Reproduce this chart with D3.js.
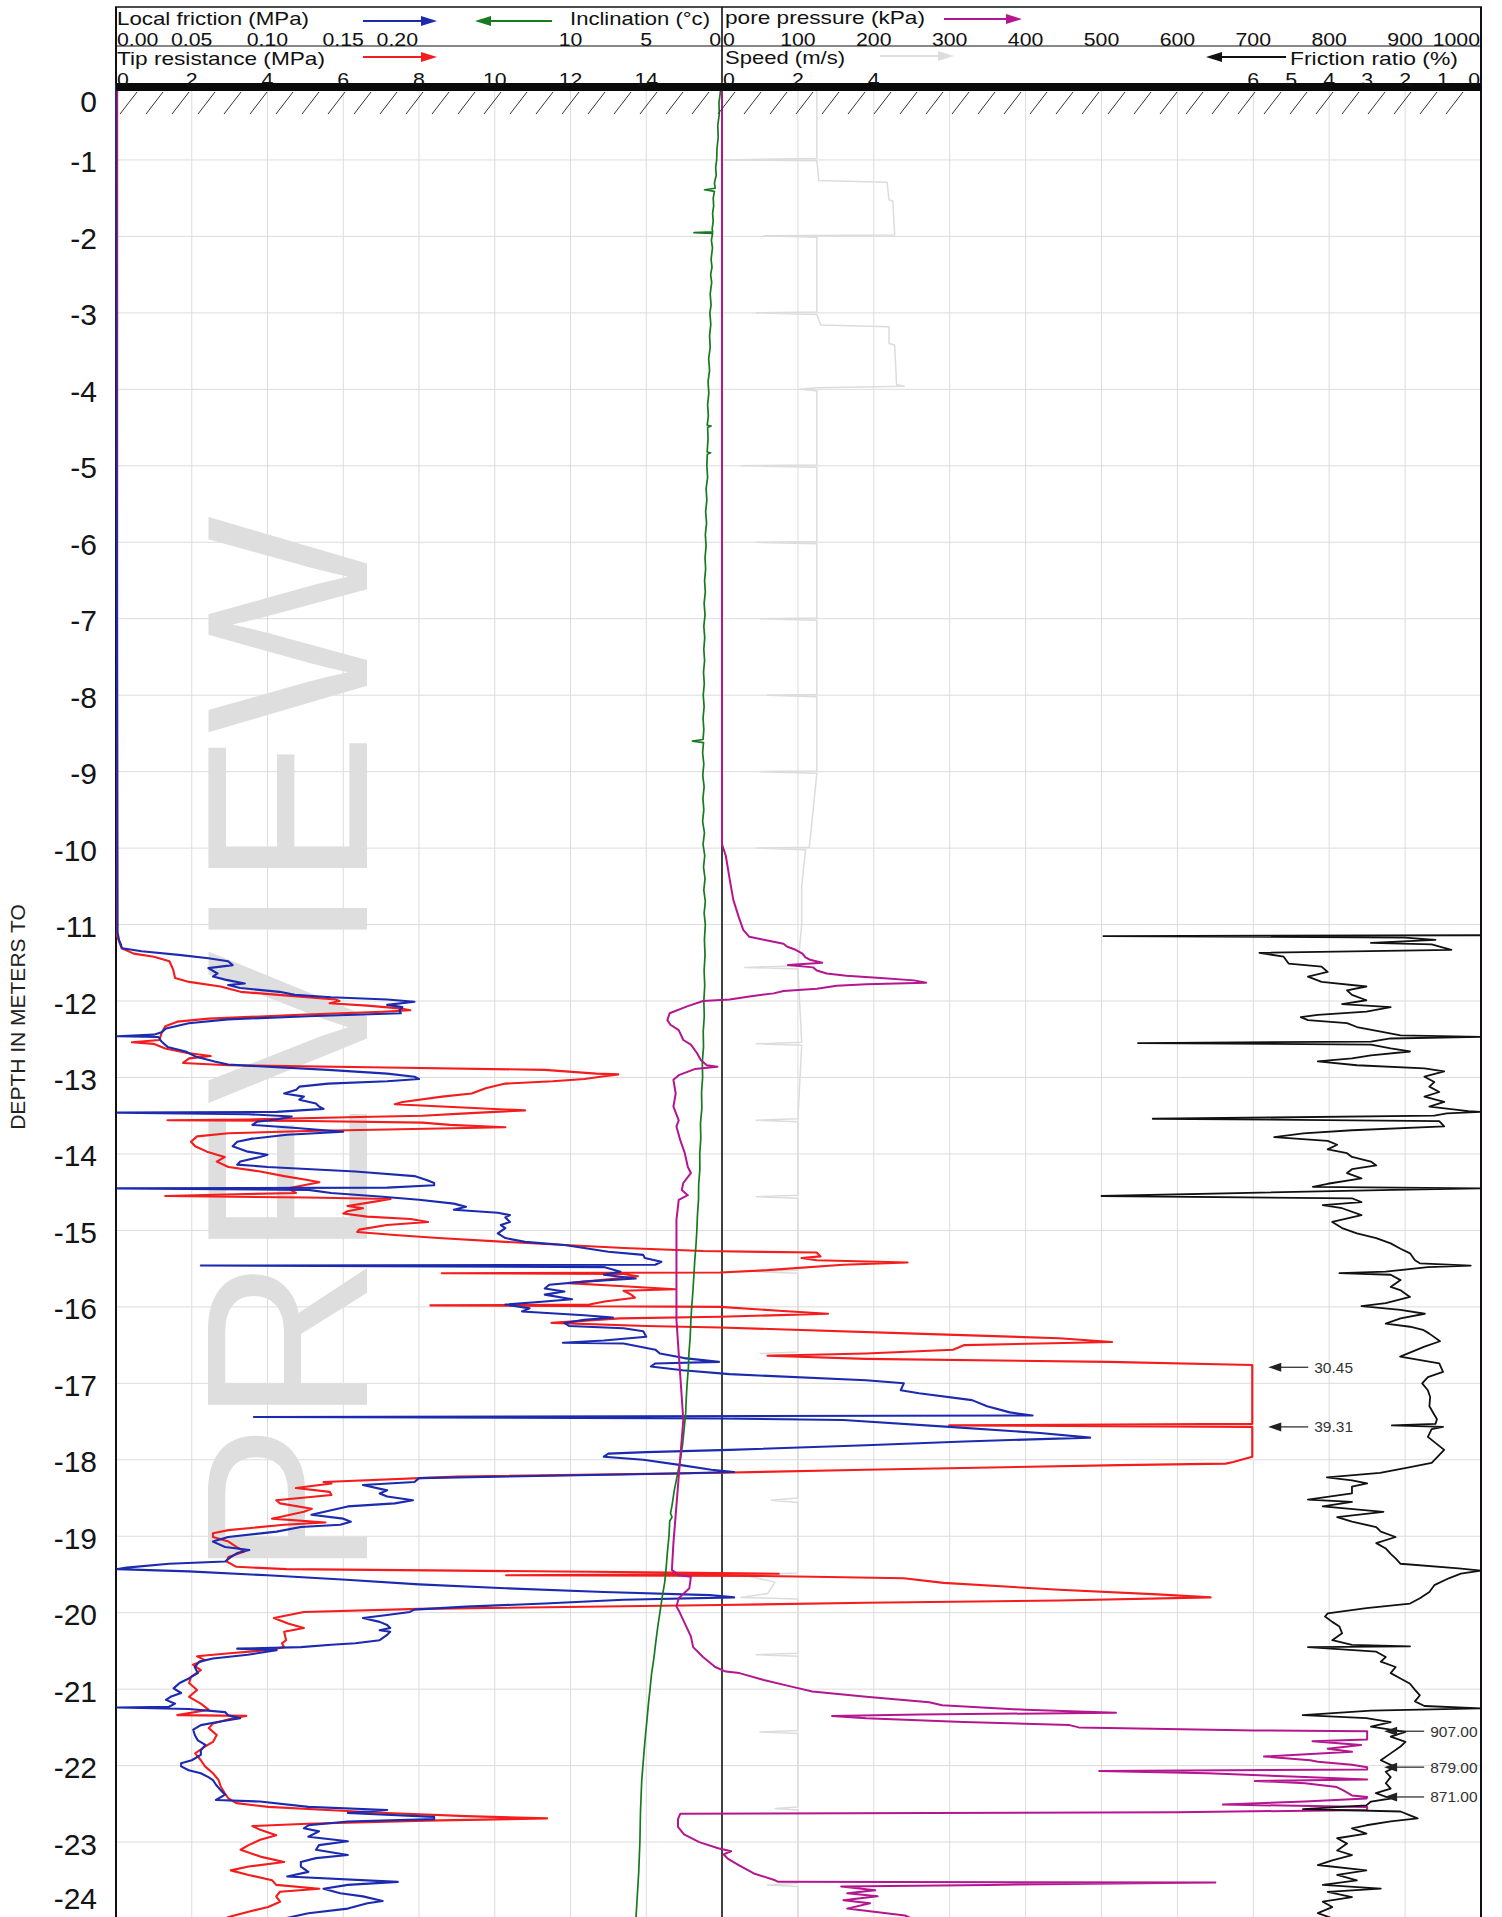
<!DOCTYPE html>
<html><head><meta charset="utf-8">
<script src="https://cdn.jsdelivr.net/npm/d3@7"></script>
<style>
body{margin:0;background:#fff}
svg{display:block}
text{font-family:"Liberation Sans",Arial,Helvetica,sans-serif}
</style>
</head><body>
<svg id="chart" width="1502" height="1917"></svg>
<script>
// ---------- axes / ticks ----------
const depthTicks = [0,-1,-2,-3,-4,-5,-6,-7,-8,-9,-10,-11,-12,-13,-14,-15,-16,-17,-18,-19,-20,-21,-22,-23,-24];
const tipTicks = [0,2,4,6,8,10,12,14];
const frictionTicks = [0,0.05,0.10,0.15,0.20];
const inclinationTicks = [10,5,0];
const poreTicks = [0,100,200,300,400,500,600,700,800,900,1000];
const speedTicks = [0,2,4];
const ratioTicks = [6,5,4,3,2,1,0];
const tipClip = 30, poreClip = 850;

// ---------- series: [depth (m), value] ----------
const tipResistance = [[0,0.03],[-11.15,0.03],[-11.18,0.05],[-11.31,0.15],[-11.38,0.47],[-11.42,1.0],[-11.48,1.41],[-11.59,1.51],[-11.7,1.56],[-11.75,1.93],[-11.81,2.76],[-11.88,3.29],[-11.93,4.54],[-11.98,5.79],[-12.0,5.9],[-12.03,5.64],[-12.06,6.63],[-12.1,7.56],[-12.12,7.77],[-12.14,7.04],[-12.18,4.85],[-12.23,2.45],[-12.27,1.62],[-12.33,1.3],[-12.42,1.2],[-12.51,1.15],[-12.54,0.42],[-12.56,0.99],[-12.62,1.3],[-12.68,1.88],[-12.72,2.5],[-12.75,1.93],[-12.81,1.77],[-12.84,2.97],[-12.87,7.15],[-12.9,11.32],[-12.95,12.68],[-12.96,13.26],[-12.99,12.79],[-13.02,12.37],[-13.05,11.53],[-13.08,10.28],[-13.14,9.76],[-13.18,9.55],[-13.21,9.39],[-13.25,8.61],[-13.32,7.57],[-13.35,7.36],[-13.37,8.19],[-13.4,9.45],[-13.43,10.8],[-13.47,9.24],[-13.5,8.09],[-13.52,6.11],[-13.55,3.5],[-13.56,1.36],[-13.57,5.06],[-13.59,8.09],[-13.62,8.82],[-13.65,10.28],[-13.68,7.15],[-13.7,5.06],[-13.73,2.97],[-13.77,2.14],[-13.84,1.98],[-13.9,2.09],[-13.97,2.4],[-14.04,2.87],[-14.1,2.66],[-14.17,2.97],[-14.23,3.81],[-14.29,4.44],[-14.34,5.06],[-14.37,5.37],[-14.41,4.96],[-14.45,4.54],[-14.51,4.75],[-14.55,1.3],[-14.57,5.06],[-14.59,7.25],[-14.64,6.63],[-14.68,6.11],[-14.71,6.52],[-14.75,6.11],[-14.78,6.0],[-14.82,6.63],[-14.85,7.78],[-14.89,8.24],[-14.93,7.15],[-14.99,6.42],[-15.02,6.37],[-15.06,7.36],[-15.1,8.51],[-15.15,10.28],[-15.19,11.85],[-15.23,13.41],[-15.27,15.5],[-15.29,18.5],[-15.34,18.6],[-15.36,18.1],[-15.39,18.5],[-15.42,20.9],[-15.45,19.2],[-15.52,17.2],[-15.55,15.95],[-15.56,8.6],[-15.57,13.4],[-15.6,13.78],[-15.64,13.0],[-15.69,11.95],[-15.73,13.4],[-15.77,14.77],[-15.79,13.4],[-15.84,13.6],[-15.88,13.7],[-15.93,12.9],[-15.97,12.5],[-15.98,8.3],[-16.0,15.95],[-16.05,17.5],[-16.09,18.8],[-16.13,15.95],[-16.15,13.3],[-16.21,11.5],[-16.25,14.0],[-16.27,15.95],[-16.35,21.1],[-16.41,24.9],[-16.46,26.3],[-16.5,22.4],[-16.56,22.1],[-16.61,19.8],[-16.64,17.2],[-16.68,19.8],[-16.72,26.2],[-16.76,30.06],[-16.79,30.45],[-17.0,33],[-17.3,36],[-17.53,39.31],[-17.55,22],[-17.57,39.31],[-17.8,35],[-17.96,31],[-18.03,29.5],[-18.05,29.3],[-18.07,26.5],[-18.13,19.8],[-18.17,15.95],[-18.22,9.0],[-18.29,5.48],[-18.31,5.69],[-18.37,4.75],[-18.42,5.64],[-18.46,5.69],[-18.53,4.23],[-18.57,4.33],[-18.64,5.17],[-18.68,4.96],[-18.77,4.12],[-18.82,5.53],[-18.85,4.44],[-18.92,2.97],[-18.96,2.56],[-19.01,2.56],[-19.07,2.97],[-19.14,3.18],[-19.2,3.39],[-19.27,2.97],[-19.33,2.92],[-19.4,3.18],[-19.43,4.5],[-19.45,9.0],[-19.47,14.0],[-19.49,17.5],[-19.51,10.3],[-19.52,17.0],[-19.53,18.4],[-19.55,20.8],[-19.61,21.85],[-19.7,24.9],[-19.76,27.5],[-19.8,28.9],[-19.84,24.9],[-19.87,19.8],[-19.9,15.95],[-19.95,8.0],[-19.99,4.96],[-20.07,4.17],[-20.14,4.54],[-20.2,4.96],[-20.25,4.44],[-20.36,4.49],[-20.4,4.38],[-20.45,4.44],[-20.49,4.0],[-20.53,3.0],[-20.57,2.14],[-20.62,2.35],[-20.68,2.03],[-20.75,2.24],[-20.84,1.98],[-20.92,1.93],[-21.01,2.14],[-21.1,1.93],[-21.19,2.24],[-21.27,2.45],[-21.34,1.62],[-21.35,3.44],[-21.38,3.08],[-21.45,2.56],[-21.51,2.45],[-21.6,2.66],[-21.69,2.56],[-21.75,2.35],[-21.84,2.09],[-21.93,2.24],[-22.01,2.35],[-22.1,2.56],[-22.19,2.71],[-22.28,2.77],[-22.36,2.87],[-22.43,2.97],[-22.49,3.18],[-22.54,4.02],[-22.58,5.58],[-22.62,7.15],[-22.66,9.24],[-22.69,11.38],[-22.72,8.19],[-22.76,5.06],[-22.79,3.6],[-22.84,3.81],[-22.91,4.23],[-22.97,3.81],[-23.04,3.5],[-23.1,3.29],[-23.19,3.81],[-23.26,4.44],[-23.32,3.5],[-23.37,3.03],[-23.43,3.5],[-23.5,4.12],[-23.56,4.23],[-23.61,5.37],[-23.65,4.33],[-23.71,4.23],[-23.78,4.33],[-23.85,4.02],[-23.91,3.5],[-23.98,2.97],[-24.0,2.9]];

const localFriction = [[0,0],[-11.1,0.001],[-11.2,0.002],[-11.25,0.003],[-11.31,0.004],[-11.35,0.017],[-11.4,0.043],[-11.44,0.061],[-11.48,0.074],[-11.53,0.077],[-11.57,0.061],[-11.64,0.067],[-11.68,0.064],[-11.72,0.072],[-11.77,0.085],[-11.79,0.074],[-11.83,0.082],[-11.88,0.108],[-11.92,0.118],[-11.95,0.142],[-11.98,0.179],[-12.01,0.197],[-12.05,0.179],[-12.08,0.189],[-12.12,0.187],[-12.16,0.188],[-12.2,0.127],[-12.24,0.074],[-12.29,0.048],[-12.36,0.033],[-12.41,0.03],[-12.44,0.025],[-12.46,0.001],[-12.47,0.028],[-12.53,0.03],[-12.6,0.034],[-12.66,0.046],[-12.73,0.053],[-12.79,0.065],[-12.83,0.074],[-12.86,0.1],[-12.9,0.14],[-12.95,0.179],[-12.99,0.197],[-13.02,0.2],[-13.05,0.179],[-13.08,0.14],[-13.12,0.121],[-13.16,0.119],[-13.21,0.111],[-13.25,0.124],[-13.29,0.121],[-13.34,0.132],[-13.38,0.134],[-13.41,0.137],[-13.45,0.106],[-13.46,0.001],[-13.48,0.087],[-13.51,0.116],[-13.55,0.106],[-13.58,0.093],[-13.62,0.09],[-13.66,0.119],[-13.71,0.15],[-13.75,0.113],[-13.8,0.09],[-13.84,0.08],[-13.9,0.077],[-13.97,0.087],[-14.01,0.1],[-14.04,0.095],[-14.1,0.082],[-14.14,0.08],[-14.17,0.1],[-14.23,0.158],[-14.29,0.197],[-14.34,0.205],[-14.38,0.21],[-14.41,0.21],[-14.44,0.179],[-14.45,0.001],[-14.47,0.127],[-14.51,0.142],[-14.56,0.176],[-14.6,0.2],[-14.65,0.223],[-14.69,0.231],[-14.73,0.223],[-14.77,0.252],[-14.8,0.26],[-14.83,0.257],[-14.89,0.26],[-14.93,0.254],[-14.97,0.257],[-15.04,0.252],[-15.1,0.257],[-15.15,0.27],[-15.19,0.296],[-15.23,0.309],[-15.28,0.325],[-15.32,0.348],[-15.36,0.349],[-15.41,0.36],[-15.45,0.356],[-15.46,0.056],[-15.48,0.322],[-15.54,0.333],[-15.58,0.322],[-15.63,0.343],[-15.67,0.309],[-15.71,0.286],[-15.76,0.283],[-15.8,0.296],[-15.84,0.283],[-15.9,0.301],[-15.93,0.283],[-15.97,0.257],[-16.02,0.273],[-16.06,0.268],[-16.11,0.309],[-16.14,0.328],[-16.17,0.309],[-16.21,0.296],[-16.25,0.299],[-16.28,0.335],[-16.32,0.348],[-16.39,0.35],[-16.44,0.322],[-16.47,0.295],[-16.48,0.335],[-16.56,0.356],[-16.61,0.359],[-16.67,0.375],[-16.72,0.398],[-16.74,0.356],[-16.78,0.353],[-16.83,0.374],[-16.88,0.405],[-16.96,0.495],[-17.0,0.52],[-17.09,0.518],[-17.13,0.53],[-17.22,0.565],[-17.3,0.575],[-17.38,0.59],[-17.42,0.605],[-17.44,0.091],[-17.46,0.399],[-17.48,0.48],[-17.57,0.55],[-17.65,0.61],[-17.71,0.643],[-17.76,0.56],[-17.81,0.495],[-17.87,0.405],[-17.9,0.35],[-17.92,0.325],[-17.96,0.322],[-18.0,0.348],[-18.07,0.373],[-18.13,0.393],[-18.16,0.408],[-18.18,0.37],[-18.24,0.2],[-18.29,0.197],[-18.33,0.163],[-18.4,0.179],[-18.44,0.174],[-18.48,0.179],[-18.53,0.196],[-18.57,0.184],[-18.61,0.153],[-18.66,0.142],[-18.72,0.129],[-18.77,0.15],[-18.81,0.155],[-18.85,0.148],[-18.88,0.122],[-18.94,0.106],[-19.01,0.074],[-19.07,0.064],[-19.14,0.072],[-19.18,0.088],[-19.22,0.08],[-19.27,0.076],[-19.33,0.072],[-19.36,0.035],[-19.41,0.007],[-19.43,0.001],[-19.46,0.048],[-19.51,0.1],[-19.57,0.152],[-19.63,0.2],[-19.68,0.257],[-19.73,0.322],[-19.77,0.392],[-19.8,0.408],[-19.83,0.335],[-19.88,0.283],[-19.92,0.231],[-19.96,0.197],[-19.99,0.194],[-20.03,0.179],[-20.07,0.163],[-20.12,0.174],[-20.16,0.179],[-20.2,0.181],[-20.23,0.174],[-20.25,0.181],[-20.29,0.179],[-20.36,0.174],[-20.4,0.158],[-20.42,0.142],[-20.45,0.122],[-20.47,0.08],[-20.49,0.106],[-20.55,0.087],[-20.6,0.064],[-20.64,0.055],[-20.71,0.052],[-20.79,0.054],[-20.86,0.048],[-20.92,0.042],[-20.99,0.038],[-21.05,0.043],[-21.1,0.036],[-21.14,0.033],[-21.19,0.039],[-21.23,0.035],[-21.24,0.001],[-21.26,0.048],[-21.3,0.072],[-21.34,0.074],[-21.38,0.082],[-21.43,0.067],[-21.47,0.056],[-21.53,0.051],[-21.6,0.052],[-21.67,0.054],[-21.73,0.059],[-21.8,0.056],[-21.86,0.056],[-21.93,0.05],[-21.97,0.043],[-22.01,0.043],[-22.06,0.048],[-22.1,0.056],[-22.15,0.061],[-22.19,0.064],[-22.25,0.066],[-22.32,0.069],[-22.38,0.072],[-22.45,0.066],[-22.47,0.095],[-22.54,0.127],[-22.58,0.179],[-22.62,0.153],[-22.67,0.21],[-22.7,0.21],[-22.73,0.153],[-22.78,0.127],[-22.82,0.124],[-22.86,0.134],[-22.93,0.127],[-22.99,0.153],[-23.04,0.134],[-23.1,0.132],[-23.17,0.153],[-23.21,0.132],[-23.26,0.122],[-23.32,0.122],[-23.39,0.127],[-23.45,0.113],[-23.52,0.186],[-23.56,0.153],[-23.61,0.137],[-23.67,0.148],[-23.71,0.163],[-23.77,0.176],[-23.8,0.166],[-23.87,0.153],[-23.93,0.127],[-24.0,0.111]];

const inclination = [[0,0],[-0.1,0.1],[-0.25,0.2],[-0.4,0.18],[-0.55,0.28],[-0.7,0.25],[-0.85,0.33],[-1.0,0.35],[-1.1,0.42],[-1.2,0.38],[-1.3,0.5],[-1.37,0.45],[-1.39,1.15],[-1.41,0.5],[-1.5,0.58],[-1.6,0.55],[-1.7,0.62],[-1.8,0.58],[-1.9,0.65],[-1.94,0.62],[-1.95,1.85],[-1.96,0.62],[-2.05,0.7],[-2.15,0.63],[-2.3,0.72],[-2.4,0.66],[-2.5,0.75],[-2.6,0.68],[-2.75,0.78],[-2.9,0.72],[-3.0,0.8],[-3.15,0.74],[-3.3,0.82],[-3.45,0.78],[-3.6,0.88],[-3.75,0.82],[-3.9,0.92],[-4.05,0.87],[-4.2,0.95],[-4.35,0.9],[-4.47,0.98],[-4.48,0.72],[-4.5,0.95],[-4.65,0.92],[-4.82,0.98],[-4.83,0.75],[-4.85,0.97],[-5.0,1.0],[-5.15,0.95],[-5.3,1.05],[-5.45,1.0],[-5.6,1.08],[-5.75,1.02],[-5.9,1.1],[-6.05,1.05],[-6.2,1.12],[-6.35,1.08],[-6.5,1.15],[-6.65,1.1],[-6.8,1.18],[-6.95,1.12],[-7.1,1.2],[-7.25,1.14],[-7.4,1.2],[-7.55,1.15],[-7.7,1.22],[-7.85,1.17],[-8.0,1.24],[-8.15,1.18],[-8.3,1.25],[-8.45,1.2],[-8.58,1.25],[-8.6,1.95],[-8.62,1.22],[-8.75,1.28],[-8.9,1.2],[-9.05,1.27],[-9.2,1.18],[-9.35,1.26],[-9.5,1.2],[-9.65,1.28],[-9.8,1.16],[-9.95,1.25],[-10.1,1.14],[-10.25,1.22],[-10.4,1.12],[-10.55,1.2],[-10.7,1.1],[-10.85,1.18],[-11.0,1.1],[-11.2,1.16],[-11.4,1.12],[-11.6,1.18],[-11.8,1.14],[-12.0,1.2],[-12.2,1.17],[-12.4,1.24],[-12.6,1.22],[-12.8,1.3],[-13.0,1.28],[-13.2,1.35],[-13.4,1.33],[-13.6,1.42],[-13.8,1.4],[-14.0,1.47],[-14.2,1.46],[-14.4,1.54],[-14.6,1.55],[-14.8,1.62],[-15.0,1.66],[-15.2,1.72],[-15.4,1.8],[-15.6,1.86],[-15.8,1.92],[-16.0,2.0],[-16.2,2.06],[-16.4,2.1],[-16.6,2.18],[-16.8,2.22],[-17.0,2.3],[-17.2,2.36],[-17.4,2.4],[-17.6,2.5],[-17.8,2.6],[-18.0,2.75],[-18.2,2.95],[-18.4,3.15],[-18.6,3.3],[-18.7,3.4],[-18.75,3.3],[-18.8,3.45],[-19.0,3.5],[-19.2,3.6],[-19.4,3.68],[-19.6,3.78],[-19.8,3.95],[-20.0,4.1],[-20.2,4.25],[-20.4,4.38],[-20.6,4.5],[-20.8,4.65],[-21.0,4.75],[-21.2,4.86],[-21.4,4.95],[-21.6,5.05],[-21.8,5.14],[-22.0,5.22],[-22.2,5.3],[-22.4,5.34],[-22.6,5.38],[-22.8,5.4],[-23.0,5.42],[-23.2,5.46],[-23.4,5.5],[-23.6,5.56],[-23.8,5.62],[-24.0,5.68]];

const porePressure = [[0,0],[-9.95,0],[-10.1,5],[-10.4,10],[-10.68,15],[-10.9,22],[-11.07,28],[-11.16,36],[-11.2,55],[-11.25,81],[-11.29,86],[-11.33,97],[-11.38,106],[-11.43,110],[-11.46,116],[-11.5,132],[-11.53,87],[-11.56,120],[-11.6,125],[-11.64,138],[-11.67,164],[-11.7,209],[-11.73,253],[-11.76,269],[-11.78,190],[-11.8,151],[-11.84,125],[-11.87,81],[-11.9,68],[-11.94,36],[-11.98,10],[-12.0,-25],[-12.07,-46],[-12.16,-69],[-12.25,-72],[-12.31,-68],[-12.38,-57],[-12.51,-51],[-12.57,-41],[-12.68,-33],[-12.77,-28],[-12.84,-20],[-12.86,-6],[-12.89,-36],[-12.97,-57],[-13.03,-64],[-13.21,-61],[-13.38,-64],[-13.56,-57],[-13.64,-60],[-13.82,-55],[-13.99,-49],[-14.17,-45],[-14.25,-41],[-14.38,-51],[-14.47,-53],[-14.54,-45],[-14.6,-57],[-14.86,-60],[-15.3,-60],[-15.74,-60],[-16.17,-60],[-16.61,-57],[-17.04,-54],[-17.48,-51],[-18.22,-57],[-19.09,-64],[-19.44,-66],[-19.51,-57],[-19.53,-41],[-19.68,-43],[-19.81,-57],[-19.92,-60],[-19.97,-57],[-20.14,-49],[-20.31,-41],[-20.45,-38],[-20.58,-25],[-20.71,-9],[-20.77,5],[-20.79,23],[-20.88,55],[-20.97,93],[-21.03,119],[-21.1,190],[-21.17,273],[-21.21,290],[-21.27,400],[-21.31,519],[-21.33,260],[-21.35,145],[-21.38,190],[-21.43,318],[-21.47,458],[-21.5,470],[-21.54,702],[-21.55,907],[-21.6,890],[-21.66,880],[-21.68,778],[-21.73,842],[-21.78,798],[-21.82,830],[-21.88,714],[-21.93,775],[-21.95,785],[-21.99,830],[-22.02,879],[-22.05,860],[-22.07,497],[-22.1,640],[-22.15,768],[-22.18,860],[-22.2,702],[-22.23,768],[-22.28,810],[-22.32,818],[-22.39,830],[-22.41,871],[-22.43,849],[-22.47,768],[-22.51,660],[-22.54,852],[-22.58,860],[-22.61,600],[-22.63,-55],[-22.7,-58],[-22.8,-58],[-22.9,-50],[-23.0,-30],[-23.08,-5],[-23.12,12],[-23.16,2],[-23.22,8],[-23.3,22],[-23.41,42],[-23.5,70],[-23.52,74],[-23.53,650],[-23.56,350],[-23.58,157],[-23.63,202],[-23.67,165],[-23.71,205],[-23.76,160],[-23.8,195],[-23.87,165],[-23.96,241],[-24.0,250]];

const speed = [[0,0],[-0.03,2.5],[-0.98,2.5],[-1.0,0.0],[-1.01,2.5],[-1.27,2.55],[-1.29,4.35],[-1.52,4.4],[-1.54,4.5],[-1.98,4.55],[-1.99,1.1],[-2.01,2.5],[-2.99,2.5],[-3.0,0.9],[-3.02,2.5],[-3.16,2.6],[-3.18,4.4],[-3.4,4.4],[-3.42,4.55],[-3.94,4.6],[-3.96,4.8],[-3.98,2.5],[-4.0,2.05],[-4.02,2.5],[-4.99,2.5],[-5.0,0.5],[-5.02,2.5],[-5.99,2.5],[-6.0,0.9],[-6.02,2.5],[-6.99,2.5],[-7.0,1.0],[-7.02,2.5],[-7.99,2.5],[-8.0,1.2],[-8.02,2.5],[-8.99,2.5],[-9.0,1.0],[-9.02,2.5],[-9.99,2.3],[-10.0,0.9],[-10.02,2.2],[-10.5,2.1],[-11.0,2.1],[-11.54,2.0],[-11.56,0.6],[-11.58,2.0],[-12.54,2.1],[-12.56,0.9],[-12.58,2.1],[-13.54,2.0],[-13.56,0.9],[-13.58,2.0],[-14.54,2.0],[-14.56,0.9],[-14.58,2.0],[-15.52,2.0],[-15.54,0.9],[-15.56,2.0],[-16.59,2.0],[-16.61,1.0],[-16.63,2.0],[-17.42,2.0],[-17.44,0.3],[-17.46,2.0],[-18.5,2.0],[-18.53,1.3],[-18.56,2.0],[-19.48,2.0],[-19.5,0.5],[-19.6,1.4],[-19.75,1.2],[-19.8,0.5],[-19.82,2.0],[-20.53,2.0],[-20.55,0.9],[-20.57,2.0],[-21.54,2.0],[-21.56,1.0],[-21.58,2.0],[-22.54,2.0],[-22.56,1.4],[-22.58,2.0],[-23.54,2.0],[-23.56,1.2],[-23.58,2.0],[-24,2.0]];

const frictionRatio = [[-11.14,0],[-11.15,9.95],[-11.17,2.0],[-11.2,1.2],[-11.24,2.9],[-11.26,1.3],[-11.33,0.78],[-11.37,5.84],[-11.42,5.2],[-11.51,5.07],[-11.55,4.2],[-11.62,4.04],[-11.68,4.56],[-11.75,4.2],[-11.81,3.02],[-11.86,3.53],[-11.92,3.4],[-11.99,3.02],[-12.04,3.66],[-12.08,2.38],[-12.14,3.02],[-12.18,4.3],[-12.21,4.75],[-12.25,4.56],[-12.29,3.53],[-12.34,3.27],[-12.4,2.64],[-12.45,2.12],[-12.47,0],[-12.49,2.38],[-12.53,2.9],[-12.55,9.04],[-12.57,2.9],[-12.62,2.38],[-12.66,1.87],[-12.71,2.9],[-12.75,3.4],[-12.79,4.3],[-12.84,3.27],[-12.88,1.49],[-12.92,0.97],[-12.99,1.49],[-13.06,1.23],[-13.12,1.36],[-13.19,1.1],[-13.25,1.49],[-13.32,0.97],[-13.38,1.36],[-13.44,0.33],[-13.45,0],[-13.47,0.9],[-13.5,1.23],[-13.54,8.65],[-13.57,1.1],[-13.64,0.97],[-13.69,3.4],[-13.73,4.68],[-13.78,5.45],[-13.83,4.04],[-13.88,3.79],[-13.94,4.04],[-13.99,3.53],[-14.04,3.4],[-14.1,2.9],[-14.15,2.76],[-14.2,3.4],[-14.25,3.53],[-14.32,3.15],[-14.39,4.04],[-14.43,4.43],[-14.45,0],[-14.47,2.3],[-14.55,10.0],[-14.58,3.4],[-14.63,3.15],[-14.67,4.17],[-14.71,3.66],[-14.8,3.15],[-14.89,3.92],[-14.97,3.66],[-15.04,3.27],[-15.1,2.76],[-15.17,2.38],[-15.24,2.12],[-15.3,1.87],[-15.39,1.74],[-15.43,1.61],[-15.46,0.27],[-15.48,1.4],[-15.54,2.51],[-15.56,3.73],[-15.58,2.38],[-15.65,2.12],[-15.74,2.38],[-15.78,2.13],[-15.87,1.87],[-15.95,2.51],[-15.99,3.15],[-16.04,2.12],[-16.09,1.48],[-16.15,2.12],[-16.22,2.51],[-16.26,1.87],[-16.3,1.53],[-16.35,1.36],[-16.45,1.08],[-16.52,1.49],[-16.65,2.13],[-16.74,1.1],[-16.85,1.0],[-16.92,1.4],[-17.0,1.55],[-17.09,1.4],[-17.18,1.34],[-17.3,1.36],[-17.47,1.16],[-17.53,1.2],[-17.55,2.35],[-17.57,1.0],[-17.6,1.3],[-17.7,1.4],[-17.87,0.97],[-18.04,1.3],[-18.1,1.9],[-18.17,2.66],[-18.23,4.06],[-18.27,3.4],[-18.31,3.0],[-18.35,3.4],[-18.44,3.4],[-18.52,4.56],[-18.55,3.4],[-18.61,4.17],[-18.68,2.57],[-18.75,3.79],[-18.81,3.4],[-18.88,2.76],[-18.94,2.64],[-19.01,2.25],[-19.09,2.76],[-19.16,2.51],[-19.23,2.38],[-19.29,2.25],[-19.36,2.12],[-19.42,0.59],[-19.45,0],[-19.49,0.53],[-19.55,0.85],[-19.64,1.23],[-19.73,1.36],[-19.81,1.61],[-19.88,1.87],[-19.94,3.02],[-20.01,4.04],[-20.05,4.11],[-20.12,3.92],[-20.18,3.73],[-20.27,3.66],[-20.36,3.92],[-20.42,3.4],[-20.44,1.87],[-20.45,4.56],[-20.51,2.76],[-20.58,2.51],[-20.64,2.64],[-20.71,2.25],[-20.79,2.38],[-20.86,2.12],[-20.93,1.87],[-21.01,1.74],[-21.08,1.61],[-21.16,1.74],[-21.22,1.49],[-21.25,0],[-21.28,2.9],[-21.34,4.7],[-21.38,3.02],[-21.43,2.38],[-21.49,2.9],[-21.56,1.99],[-21.62,2.38],[-21.69,1.99],[-21.75,2.12],[-21.84,2.38],[-21.93,2.64],[-22.02,2.25],[-22.08,2.51],[-22.15,2.38],[-22.23,2.51],[-22.3,2.38],[-22.36,2.77],[-22.43,2.38],[-22.47,2.9],[-22.52,3.02],[-22.57,4.69],[-22.6,2.12],[-22.65,1.87],[-22.69,1.67],[-22.73,2.38],[-22.78,3.02],[-22.82,3.4],[-22.89,3.02],[-22.95,3.79],[-23.02,3.53],[-23.11,3.79],[-23.17,3.4],[-23.24,3.92],[-23.3,4.3],[-23.37,3.02],[-23.43,3.79],[-23.5,3.27],[-23.56,4.17],[-23.61,2.64],[-23.65,4.04],[-23.72,3.4],[-23.78,4.17],[-23.85,3.92],[-23.93,4.3],[-24.0,3.9]];

const tipNotes = [[-16.79,30.45],[-17.57,39.31]];
const poreNotes = [[-21.55,907.00],[-22.02,879.00],[-22.41,871.00]];

// ---------- layout ----------
const L = 116, M = 722, R = 1481, TOP = 7, BOT = 1917;
const svg = d3.select("#chart");
const y = d3.scaleLinear().domain([0,-24]).range([83.5, 83.5 + 24*76.46]);
const xTip = d3.scaleLinear().domain([0,16]).range([L,M]);
const xFric = d3.scaleLinear().domain([0,0.4]).range([L,M]);
const xIncl = d3.scaleLinear().domain([40,0]).range([L,M]);
const xPore = d3.scaleLinear().domain([0,1000]).range([M,R]);
const xSpeed = d3.scaleLinear().domain([0,20]).range([M,R]);
const xRatio = d3.scaleLinear().domain([20,0]).range([M,R]);

const C = {blue:"#1b2aae", red:"#f41c1c", green:"#177a1f", magenta:"#b3168f", black:"#111", speed:"#dcdcdc", grid:"#dcdcdc"};

// gridlines
const g = svg.append("g");
g.selectAll(".vg1").data(tipTicks.filter(t=>t>0)).join("line")
  .attr("x1",d=>xTip(d)).attr("x2",d=>xTip(d)).attr("y1",91).attr("y2",BOT)
  .attr("stroke",C.grid).attr("stroke-width",1);
g.selectAll(".vg2").data(poreTicks.filter(t=>t>0 && t<1000)).join("line")
  .attr("x1",d=>xPore(d)).attr("x2",d=>xPore(d)).attr("y1",91).attr("y2",BOT)
  .attr("stroke",C.grid).attr("stroke-width",1);
g.selectAll(".hg").data(depthTicks.filter(t=>t<0)).join("line")
  .attr("x1",L).attr("x2",R).attr("y1",d=>y(d)).attr("y2",d=>y(d))
  .attr("stroke",C.grid).attr("stroke-width",1);

// watermark
svg.append("text").text("PREVIEW")
  .attr("transform","translate(367,1577) rotate(-90)")
  .attr("font-size",230).attr("fill","#dedede");

// frame lines (under data)
const frame = svg.append("g").attr("stroke","#111");
frame.append("line").attr("x1",L).attr("x2",L).attr("y1",TOP).attr("y2",BOT).attr("stroke-width",2);
frame.append("line").attr("x1",M).attr("x2",M).attr("y1",TOP).attr("y2",BOT).attr("stroke-width",1.6);
frame.append("line").attr("x1",R).attr("x2",R).attr("y1",TOP).attr("y2",BOT).attr("stroke-width",2);
frame.append("line").attr("x1",L-1).attr("x2",R+1).attr("y1",TOP).attr("y2",TOP).attr("stroke-width",1.5);
frame.append("line").attr("x1",L).attr("x2",R).attr("y1",46).attr("y2",46).attr("stroke-width",1);

// data lines
function draw(data, xs, color, w, clip){
  const ln = d3.line().x(d => xs(clip!=null ? Math.min(d[1],clip) : d[1])).y(d => y(d[0]));
  svg.append("path").datum(data).attr("d",ln).attr("fill","none")
    .attr("stroke",color).attr("stroke-width",w).attr("stroke-linejoin","round");
}
draw(speed, xSpeed, C.speed, 1.5);
draw(tipResistance, xTip, C.red, 2.1, tipClip);
draw(localFriction, xFric, C.blue, 2.1);
draw(inclination, xIncl, C.green, 1.7);
draw(porePressure, xPore, C.magenta, 2, poreClip);
draw(frictionRatio, xRatio, C.black, 1.8);

// notes (clipped values)
function notes(data, x0){
  const gN = svg.append("g");
  data.forEach(d => {
    const yy = y(d[0]);
    gN.append("path").attr("d",`M${x0},${yy} L${x0+13},${yy-4.5} L${x0+13},${yy+4.5} Z`).attr("fill","#222");
    gN.append("line").attr("x1",x0+12).attr("x2",x0+40).attr("y1",yy).attr("y2",yy).attr("stroke","#222").attr("stroke-width",1.2);
    gN.append("text").text(d[1].toFixed(2)).attr("x",x0+46).attr("y",yy+5.5).attr("font-size",15.5).attr("fill","#333");
  });
}
notes(tipNotes, xTip(tipClip)+16);
notes(poreNotes, xPore(poreClip)+17);

// thick ground bar + hatching
svg.append("rect").attr("x",L).attr("y",83).attr("width",R-L).attr("height",8).attr("fill","#0a0a0a");
svg.append("g").selectAll("line").data(d3.range(L+4, R-16, 26)).join("line")
  .attr("x1",d=>d).attr("y1",114).attr("x2",d=>d+17).attr("y2",92)
  .attr("stroke","#333").attr("stroke-width",1);

// depth labels
svg.append("g").selectAll("text").data(depthTicks).join("text")
  .text(d=>d===0?"0":String(d))
  .attr("x",97).attr("y",d=>Math.max(112, Math.min(1909, y(d)+12.5)))
  .attr("text-anchor","end").attr("font-size",30).attr("fill","#151515");
svg.append("text").text("DEPTH IN METERS TO")
  .attr("transform","translate(25,1017) rotate(-90)")
  .attr("text-anchor","middle").attr("font-size",21).attr("fill","#222");

// header
const FS = 19;
const hdr = svg.append("g").attr("font-size",FS).attr("fill","#111");
function label(t,x,yy,anchor,len){
  const tx = hdr.append("text").text(t).attr("x",x).attr("y",yy).attr("text-anchor",anchor||"start");
  if(len) tx.attr("textLength",len).attr("lengthAdjust","spacingAndGlyphs");
}
label("Local friction (MPa)", L+1, 25, "start", 192);
label("Inclination (°c)", 710, 25, "end", 140);
label("pore pressure (kPa)", M+3, 24, "start", 200);
label("Tip resistance (MPa)", L+1, 64.5, "start", 208);
label("Speed (m/s)", M+3, 64, "start", 120);
label("Friction ratio (%)", 1458, 64.5, "end", 168);

function ticks(arr, sc, yy, fmt, firstStart, lastEnd){
  arr.forEach((t,i) => {
    let anchor = "middle", x = sc(t);
    if(firstStart && i===0){anchor="start"; x+=1;}
    if(lastEnd && i===arr.length-1){anchor="end"; x-=1;}
    const tx = hdr.append("text").text(fmt(t)).attr("x",x).attr("y",yy).attr("text-anchor",anchor);
    const w = tx.node().getComputedTextLength();
    tx.attr("textLength", w*1.12).attr("lengthAdjust","spacingAndGlyphs");
  });
}
ticks(frictionTicks, xFric, 45.5, d=>d.toFixed(2), true, true);
ticks(inclinationTicks, xIncl, 45.5, d=>String(d), false, true);
ticks(poreTicks, xPore, 45.5, d=>String(d), true, true);
ticks(tipTicks, xTip, 86, d=>String(d), true, false);
ticks(speedTicks, xSpeed, 86, d=>String(d), true, false);
ticks(ratioTicks, xRatio, 86, d=>String(d), false, true);

// legend arrows
function arrow(x1,x2,yy,color){
  const dir = x2>x1?1:-1;
  hdr.append("line").attr("x1",x1).attr("x2",x2-dir*12).attr("y1",yy).attr("y2",yy).attr("stroke",color).attr("stroke-width",2);
  hdr.append("path").attr("d",`M${x2},${yy} L${x2-dir*16},${yy-5} L${x2-dir*16},${yy+5} Z`).attr("fill",color);
}
arrow(363,437,21,C.blue);
arrow(552,475,21,C.green);
arrow(944,1022,19,C.magenta);
arrow(363,437,57,C.red);
arrow(880,954,56,"#dedede");
arrow(1286,1206,57,"#111");
</script>
</body></html>
